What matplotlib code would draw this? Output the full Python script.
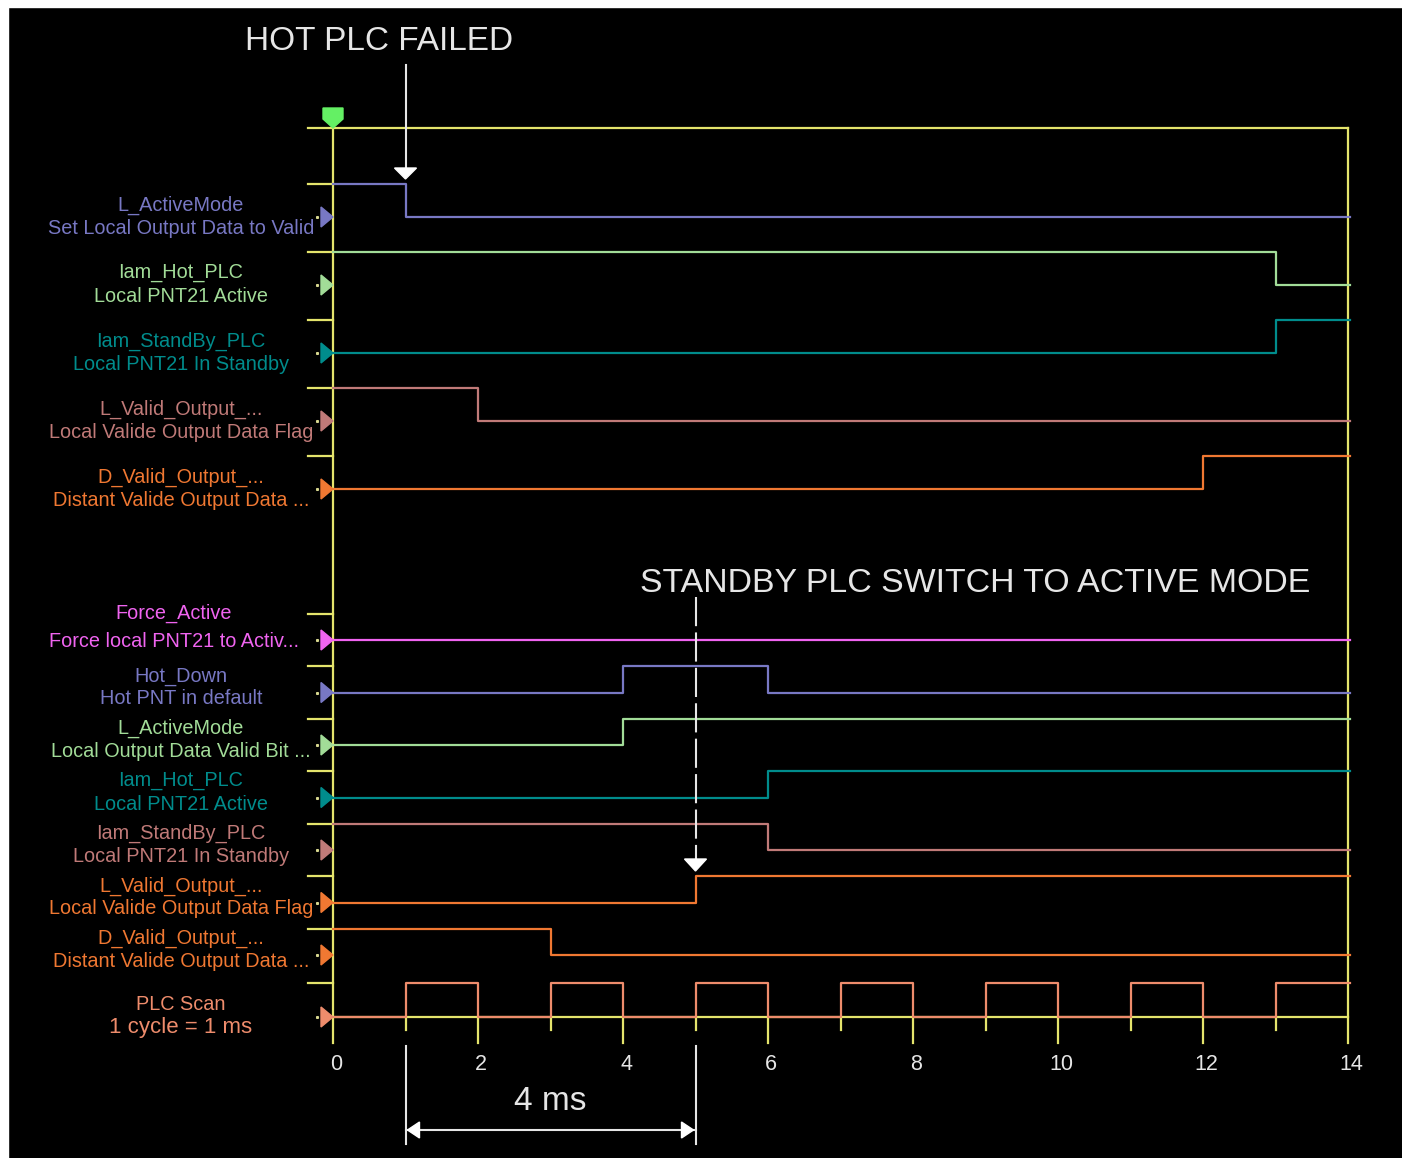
import matplotlib
matplotlib.use("Agg")
import matplotlib.pyplot as plt
from matplotlib.patches import Polygon, Rectangle

plt.rcParams["font.family"] = ["Liberation Sans", "DejaVu Sans"]

# traces: name (first label line), description (second label line)
names = ["L_ActiveMode", "Iam_Hot_PLC", "Iam_StandBy_PLC", "L_Valid_Output_...",
         "D_Valid_Output_...", "Force_Active", "Hot_Down", "L_ActiveMode",
         "Iam_Hot_PLC", "Iam_StandBy_PLC", "L_Valid_Output_...", "D_Valid_Output_...",
         "PLC Scan"]
descriptions = ["Set Local Output Data to Valid", "Local PNT21 Active",
                "Local PNT21 In Standby", "Local Valide Output Data Flag",
                "Distant Valide Output Data ...", "Force local PNT21 to Activ...",
                "Hot PNT in default", "Local Output Data Valid Bit ...",
                "Local PNT21 Active", "Local PNT21 In Standby",
                "Local Valide Output Data Flag", "Distant Valide Output Data ...",
                "1 cycle = 1 ms"]
# logic level at t=0 and the times (ms) where the trace flips
initial_state = [1, 1, 0, 1, 0, 0, 0, 0, 0, 1, 0, 1, 0]
toggle_times = [[1], [13], [13], [2], [12], [], [4, 6], [4], [6], [6], [5], [3],
                [1, 2, 3, 4, 5, 6, 7, 8, 9, 10, 11, 12, 13]]
x_ticks = [0, 2, 4, 6, 8, 10, 12, 14]
minor_ticks = [1, 3, 5, 7, 9, 11, 13]
t_max = 14
fail_time = 1
switch_time = 5

# trace colours
LAV = "#7878c4"
LGREEN = "#a2dc98"
TEAL = "#008c8c"
ROSE = "#c07a78"
ORANGE = "#f07832"
MAGENTA = "#f064f0"
PEACH = "#ee8c6c"
colors = [LAV, LGREEN, TEAL, ROSE, ORANGE, MAGENTA, LAV, LGREEN, TEAL, ROSE,
          ORANGE, ORANGE, PEACH]
YELLOW = "#e4e46c"
WHITE = "#e6e6e6"

# canvas geometry (pixels)
W, H = 1402, 1158
X0, PX = 333, 72.5          # pixel of t=0, pixels per ms

fig = plt.figure(figsize=(W / 100, H / 100), dpi=100, facecolor="black")
ax = fig.add_axes([0, 0, 1, 1])
ax.set_facecolor("black")
ax.set_xlim(-X0 / PX, (W - X0) / PX)
ax.set_ylim(H, 0)
ax.axis("off")


def dx(pixels):
    return pixels / PX


# row levels: two groups with different spacing
high = [184 + 68 * i for i in range(5)] + [613.5 + 52.5 * i for i in range(7)] + [983]
amp = [33] * 5 + [26.5] * 7 + [34]
label_off = [(21, 45)] * 5 + [(0, 28)] + [(10, 33)] * 6 + [(21, 44)]
label_x = [181] * 5 + [174] + [181] * 7

lw = 1.6
frame_top, axis_base = 128, 1017

# yellow frame and ticks
ax.plot([dx(-25), t_max], [frame_top, frame_top], color=YELLOW, lw=lw, zorder=1)
for t in (0, t_max):
    ax.plot([t, t], [frame_top, 1043], color=YELLOW, lw=lw, zorder=1)
ax.plot([0, t_max], [axis_base, axis_base], color=YELLOW, lw=lw, zorder=1)
for t in x_ticks[1:-1]:
    ax.plot([t, t], [axis_base, 1043], color=YELLOW, lw=lw, zorder=1)
for t in minor_ticks:
    ax.plot([t, t], [axis_base, 1030], color=YELLOW, lw=lw, zorder=1)
for t in x_ticks:
    ax.text(t + dx(3), 1064, str(t), color=WHITE, fontsize=15.5,
            ha="center", va="center")

# cursor marker at t=0
hw = dx(10)
ax.add_patch(Polygon([(-hw, 108), (hw, 108), (hw, 119), (0, 128), (-hw, 119)],
                     closed=True, color="#64f064", zorder=5))

# traces
for i in range(len(names)):
    hi, lo = high[i], high[i] + amp[i]
    c = colors[i]
    xs = [0] + toggle_times[i] + [t_max + dx(2)]
    ys = []
    level = initial_state[i]
    for _ in range(len(xs) - 1):
        ys.append(hi if level else lo)
        level ^= 1
    ys.append(ys[-1])
    ax.plot(xs, ys, drawstyle="steps-post", color=c, lw=lw, zorder=3)

    # short tick at the high level and arrow at the low level
    ax.plot([dx(-25), 0], [hi, hi], color=YELLOW, lw=lw, zorder=1)
    ax.add_patch(Polygon([(dx(-12), lo - 10), (0, lo), (dx(-12), lo + 10)],
                         closed=True, color=c, zorder=4))
    ax.plot([dx(-16)], [lo], marker="s", ms=1.2, color="#d8d890", zorder=4)

    l1, l2 = label_off[i]
    lx = dx(label_x[i] - X0)
    ax.text(lx, hi + l1, names[i], color=c, fontsize=14.3, ha="center", va="center")
    ax.text(lx, hi + l2, descriptions[i], color=c,
            fontsize=16 if i == len(names) - 1 else 14.3, ha="center", va="center")

# "HOT PLC FAILED" arrow
ax.text(dx(379 - X0), 42, "HOT PLC FAILED", color=WHITE, fontsize=24,
        ha="center", va="center")
ax.plot([fail_time, fail_time], [65, 170], color=WHITE, lw=1.5, zorder=5)
ax.add_patch(Polygon([(fail_time - dx(11), 168), (fail_time + dx(11), 168),
                      (fail_time, 179)], closed=True, color="white", zorder=5))

# "STANDBY PLC SWITCH TO ACTIVE MODE" dashed arrow
ax.text(dx(975 - X0), 584, "STANDBY PLC SWITCH TO ACTIVE MODE", color=WHITE,
        fontsize=24.4, ha="center", va="center")
ax.plot([switch_time, switch_time], [597, 860], color=WHITE, lw=1.5,
        linestyle=(0, (14, 3)), zorder=5)
ax.add_patch(Polygon([(switch_time - dx(11), 859), (switch_time + dx(11), 859),
                      (switch_time, 871)], closed=True, color="white", zorder=5))

# 4 ms span between failure and switch-over
for t in (fail_time, switch_time):
    ax.plot([t, t], [1046, 1144], color=WHITE, lw=1.5, zorder=5)
ax.plot([fail_time, switch_time], [1130, 1130], color=WHITE, lw=1.5, zorder=5)
ax.add_patch(Polygon([(fail_time + dx(2), 1130), (fail_time + dx(14), 1122),
                      (fail_time + dx(14), 1138)], closed=True, color="white", zorder=5))
ax.add_patch(Polygon([(switch_time - dx(2), 1130), (switch_time - dx(14), 1122),
                      (switch_time - dx(14), 1138)], closed=True, color="white", zorder=5))
ax.text((fail_time + switch_time) / 2, 1101, "%d ms" % (switch_time - fail_time),
        color=WHITE, fontsize=24, ha="center", va="center")

# white frame strips on the left and top edges
fig.patches.append(Rectangle((0, 0), 8 / W, 1, transform=fig.transFigure,
                             color="white", zorder=10))
fig.patches.append(Rectangle((0, 1 - 7 / H), 1, 7 / H, transform=fig.transFigure,
                             color="white", zorder=10))

fig.savefig("out.png", dpi=100, facecolor="black")
